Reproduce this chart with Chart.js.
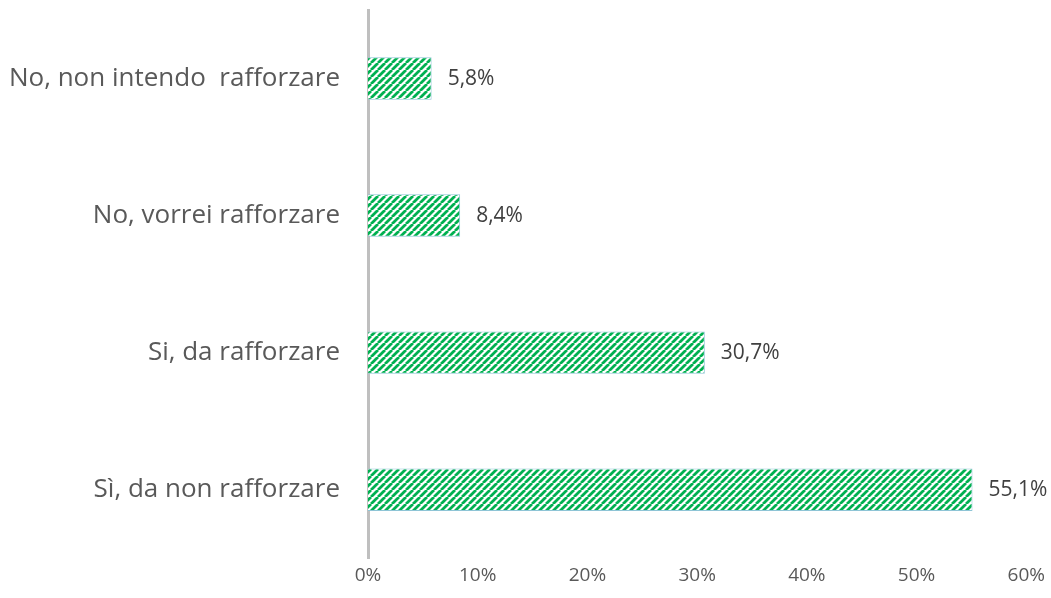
<!DOCTYPE html>
<html>
<head>
<meta charset="utf-8">
<script src="https://cdn.jsdelivr.net/npm/chart.js@4"></script>
<style>
  html, body { margin: 0; padding: 0; background: #fff; }
  #wrap { width: 1051px; height: 598px; }
</style>
</head>
<body>
<div id="wrap"><canvas id="myChart"></canvas></div>
<script>
const categories = [
  "No, non intendo  rafforzare",
  "No, vorrei rafforzare",
  "Si, da rafforzare",
  "Sì, da non rafforzare",
];
const values = [5.8, 8.4, 30.7, 55.1];
const tickLabels = ["0%", "10%", "20%", "30%", "40%", "50%", "60%"];

// striped fill, like the original's pattern
function stripes() {
  const size = 7;
  const c = document.createElement("canvas");
  c.width = size;
  c.height = size;
  const g = c.getContext("2d");
  g.fillStyle = "#ffffff";
  g.fillRect(0, 0, size, size);
  g.strokeStyle = "#00b050";
  g.lineWidth = 2.8;
  g.beginPath();
  for (let k = -1; k <= 1; k++) {
    g.moveTo(k * size, size);
    g.lineTo(k * size + size, 0);
  }
  g.stroke();
  return g.createPattern(c, "repeat");
}

const valueLabels = {
  id: "valueLabels",
  afterDatasetsDraw(chart) {
    const ctx = chart.ctx;
    const meta = chart.getDatasetMeta(0);
    ctx.save();
    ctx.font = "21px 'Open Sans'";
    ctx.fillStyle = "#404040";
    ctx.textBaseline = "middle";
    meta.data.forEach((bar, i) => {
      ctx.fillText(values[i].toFixed(1).replace(".", ",") + "%", bar.x + 16, bar.y);
    });
    ctx.restore();
  },
};

let chart = document.getElementById("myChart").getContext("2d");
new Chart(chart, {
  type: "bar",
  data: {
    labels: categories,
    datasets: [{
      data: values,
      backgroundColor: stripes(),
      borderColor: "#8ec5d6",
      borderWidth: 1,
      barPercentage: 0.31,
      categoryPercentage: 1,
    }],
  },
  options: {
    indexAxis: "y",
    responsive: true,
    maintainAspectRatio: false,
    animation: false,
    layout: { padding: { top: 10, right: 23, bottom: 5, left: 0 } },
    plugins: { legend: { display: false }, tooltip: { enabled: false } },
    scales: {
      x: {
        min: 0,
        max: 60,
        ticks: {
          stepSize: 10,
          callback: (v, i) => tickLabels[i],
          color: "#595959",
          font: { size: 19, family: "'Open Sans'" },
          padding: 6,
        },
        grid: { display: false, drawTicks: false },
        border: { display: false },
      },
      y: {
        ticks: {
          color: "#595959",
          font: { size: 26, family: "'Open Sans'" },
          padding: 28,
        },
        grid: { display: false, drawTicks: false },
        border: { display: true, color: "#bfbfbf", width: 3 },
        afterFit: (scale) => {
          scale.width = 368;
          scale.paddingTop = 0;
          scale.paddingBottom = 0;
        },
      },
    },
  },
  plugins: [valueLabels],
});
</script>
</body>
</html>
